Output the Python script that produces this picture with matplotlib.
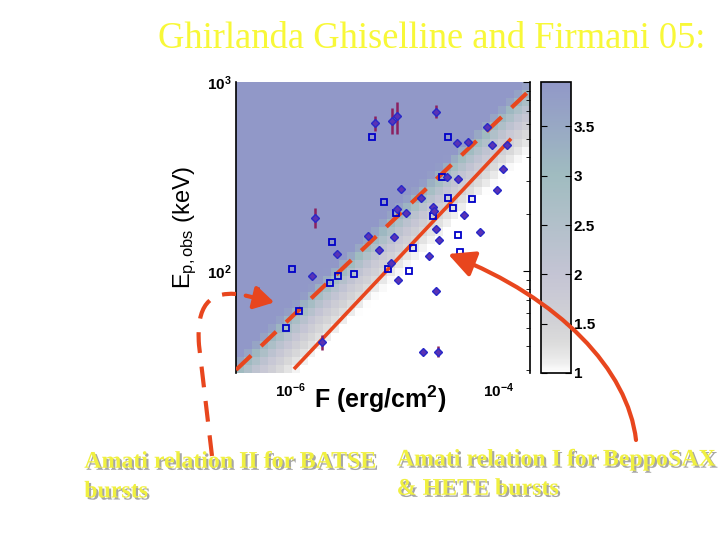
import matplotlib.pyplot as plt
import matplotlib.patheffects as pe
import numpy as np
from matplotlib.colors import LinearSegmentedColormap
from matplotlib.path import Path
from matplotlib.patches import PathPatch, FancyArrowPatch
from matplotlib.ticker import FixedLocator, FixedFormatter, LogLocator, NullFormatter

plt.rcParams['font.family'] = ['Liberation Sans', 'DejaVu Sans']
plt.rcParams['mathtext.fontset'] = 'custom'
plt.rcParams['mathtext.rm'] = 'Liberation Sans'
plt.rcParams['mathtext.it'] = 'Liberation Sans'
plt.rcParams['mathtext.bf'] = 'Liberation Sans:bold'

# open squares (BATSE)
sq_F = [6.1e-6, 3.25e-5, 7.9e-6, 1.03e-5, 2.33e-5, 3.25e-5, 5.5e-5, 3.63e-5, 2.85e-5,
        2.52e-6, 1.04e-6, 2.88e-6, 4.09e-6, 2.41e-6, 1.22e-6, 9.2e-7, 4.06e-5, 1.50e-5,
        4.23e-5, 8.7e-6, 1.38e-5]
sq_E = [512, 512, 232, 203, 195, 243, 240, 215, 314,
        142, 102, 94, 96, 86, 61, 50, 155, 132,
        126, 102, 100]

# diamonds (BeppoSAX / HETE)
dia_F = [7.67e-5, 3.96e-5, 5.05e-5, 8.57e-5, 1.19e-4, 1.09e-4, 3.18e-5, 4.06e-5, 9.57e-5,
         1.15e-5, 1.79e-5, 2.33e-5, 2.39e-5, 1.06e-5, 1.29e-5, 4.62e-5, 2.49e-5, 5.57e-6,
         2.82e-6, 7.11e-6, 9.9e-6, 6.57e-5, 2.67e-5, 2.14e-5, 9.27e-6, 1.08e-5, 1.63e-6,
         2.49e-5, 1.88e-5]
dia_E = [578, 476, 482, 464, 464, 347, 314, 307, 268,
         272, 243, 218, 208, 213, 203, 198, 167, 153,
         123, 129, 151, 161, 146, 120, 110, 89, 94,
         78, 37]

# diamonds with visible error bars
eb_F = [6.5e-6, 9.46e-6, 1.06e-5, 2.49e-5, 1.73e-6, 4.94e-7, 2.02e-6, 2.61e-5]
eb_E = [607, 622, 661, 693, 191, 73, 42, 37]
eb_lo = [551, 531, 531, 645, 169, 65, 38, 35]
eb_hi = [661, 728, 783, 755, 215, 82, 46, 40]

# relations (end points)
dash_F = [3.04e-7, 1.85e-4]
dash_E = [29.9, 875]
solid_F = [1.12e-6, 1.27e-4]
solid_E = [30.7, 493]

# shading: offset above the dashed relation (dex) -> colour value
shade_d = [-0.32, -0.27, -0.21, -0.14, -0.07, 0.0, 0.06]
shade_z = [1.0, 1.15, 1.4, 1.8, 2.4, 3.2, 3.95]

red = '#E8461E'

fig = plt.figure(figsize=(7.2, 5.4), dpi=100)
ax = fig.add_axes([0.3278, 0.3093, 0.4083, 0.5389])
cax = fig.add_axes([0.7514, 0.3093, 0.0417, 0.5389])

cmap = LinearSegmentedColormap.from_list('gg', [
    (0.0, '#FFFFFF'), (0.034, '#EEEEEE'), (0.10, '#DCDCDC'), (0.17, '#D2D2D6'),
    (0.34, '#C4C4D4'), (0.51, '#B2C0CA'), (0.68, '#A0BCC0'), (0.85, '#98A8C4'),
    (1.0, '#9198C8')])

# coarse grid in log space
lx = np.linspace(np.log10(3.04e-7), np.log10(1.98e-4), 38)
ly = np.linspace(np.log10(28.8), 3.0, 37)
cx = 0.5 * (lx[1:] + lx[:-1])
cy = 0.5 * (ly[1:] + ly[:-1])
CX, CY = np.meshgrid(cx, cy)
slope = (np.log10(dash_E[1]) - np.log10(dash_E[0])) / (np.log10(dash_F[1]) - np.log10(dash_F[0]))
d = CY - (np.log10(dash_E[0]) + slope * (CX - np.log10(dash_F[0])))
Z = np.interp(d, shade_d, shade_z)
mesh = ax.pcolormesh(10 ** lx, 10 ** ly, Z, cmap=cmap, vmin=1, vmax=3.95, shading='flat')

ax.set_xscale('log')
ax.set_yscale('log')
ax.set_xlim(3.04e-7, 1.98e-4)
ax.set_ylim(28.8, 1000)

ax.plot(dash_F, dash_E, color=red, lw=3, dashes=(5, 3.3), zorder=3)
ax.plot(solid_F, solid_E, color=red, lw=2.6, zorder=3)

ax.plot(sq_F, sq_E, 's', ms=5, mfc='none', mec='#0000C8', mew=1.3, zorder=4)
ax.plot(dia_F, dia_E, 'D', ms=4, mfc='#5A32B4', mec='#2828C8', mew=1, zorder=4)
ax.errorbar(eb_F, eb_E, yerr=[np.array(eb_E) - np.array(eb_lo), np.array(eb_hi) - np.array(eb_E)],
            fmt='D', ms=4, mfc='#5A32B4', mec='#2828C8', mew=1, ecolor='#8B2060',
            elinewidth=1.8, capsize=0, zorder=4)

for s in ['top', 'bottom']:
    ax.spines[s].set_visible(False)
ax.spines['left'].set_linewidth(1.2)
ax.spines['right'].set_linewidth(1.2)

ax.xaxis.set_major_locator(FixedLocator([1e-6, 1e-4]))
ax.xaxis.set_major_formatter(FixedFormatter([r'$\mathbf{10^{-6}}$', r'$\mathbf{10^{-4}}$']))
ax.xaxis.set_minor_locator(FixedLocator([]))
ax.tick_params(axis='x', which='both', length=0, pad=6, labelsize=11)

ax.yaxis.set_major_locator(FixedLocator([100, 1000]))
ax.yaxis.set_major_formatter(FixedFormatter([r'$\mathbf{10^{2}}$', r'$\mathbf{10^{3}}$']))
ax.yaxis.set_minor_locator(LogLocator(base=10, subs=np.arange(2, 10)))
ax.yaxis.set_minor_formatter(NullFormatter())
ax.tick_params(axis='y', which='both', left=False, right=True, labelleft=True,
               direction='in', pad=3, labelsize=11)
ax.tick_params(axis='y', which='major', length=5)
ax.tick_params(axis='y', which='minor', length=3)

ax.set_xlabel(r'F (erg/cm$^{\mathbf{2}}$)', fontsize=18, fontweight='bold')
ax.xaxis.set_label_coords(0.49, -0.035)
ax.set_ylabel(r'$\mathregular{E_{p,obs}}$ (keV)', fontsize=17)
ax.yaxis.set_label_coords(-0.125, 0.5)

cb = fig.colorbar(mesh, cax=cax)
cb.set_ticks([1, 1.5, 2, 2.5, 3, 3.5])
cb.set_ticklabels(['1', '1.5', '2', '2.5', '3', '3.5'])
cax.tick_params(direction='in', left=True, right=True, length=4, labelsize=11, pad=2)
for lab in cax.get_yticklabels():
    lab.set_fontweight('bold')
cb.outline.set_linewidth(1.2)


def fxy(px, py):
    return (px / 720, 1 - py / 540)


fig.text(0.599, 0.928, 'Ghirlanda Ghiselline and Firmani 05:', ha='center', va='center',
         fontsize=26.3, color='#F8F838', family='Liberation Serif')

shadow = [pe.withSimplePatchShadow(offset=(1.5, -1.5), shadow_rgbFace='#808080', alpha=0.7)]
for x, y, s in [(0.117, 0.144, 'Amati relation II for BATSE'), (0.117, 0.089, 'bursts'),
                (0.551, 0.148, 'Amati relation I for BeppoSAX'), (0.551, 0.094, '& HETE bursts')]:
    fig.text(x, y, s, ha='left', va='center', fontsize=17.2, fontweight='bold',
             color='#F0F040', family='Liberation Serif', path_effects=shadow)

# dashed curved pointer
dpath = Path([fxy(212, 456), fxy(199, 345), fxy(196, 305), fxy(210, 292), fxy(236, 294)],
             [Path.MOVETO, Path.LINETO, Path.CURVE4, Path.CURVE4, Path.CURVE4])
fig.add_artist(PathPatch(dpath, transform=fig.transFigure, fill=False, ec=red, lw=3,
                         linestyle=(0, (5, 3.3)), zorder=10))
fig.add_artist(FancyArrowPatch(fxy(243, 295), fxy(277, 303), transform=fig.transFigure,
                               arrowstyle='-|>,head_length=0.6,head_width=0.35',
                               mutation_scale=20, color=red, lw=3, zorder=10))

# solid curved arrow
spath = Path([fxy(636, 440), fxy(628, 370), fxy(560, 298), fxy(448, 254)],
             [Path.MOVETO, Path.CURVE4, Path.CURVE4, Path.CURVE4])
fig.add_artist(FancyArrowPatch(path=spath, transform=fig.transFigure,
                               arrowstyle='-|>,head_length=0.8,head_width=0.4',
                               mutation_scale=20, color=red, lw=3, zorder=10))

fig.savefig('out.png', dpi=100)
